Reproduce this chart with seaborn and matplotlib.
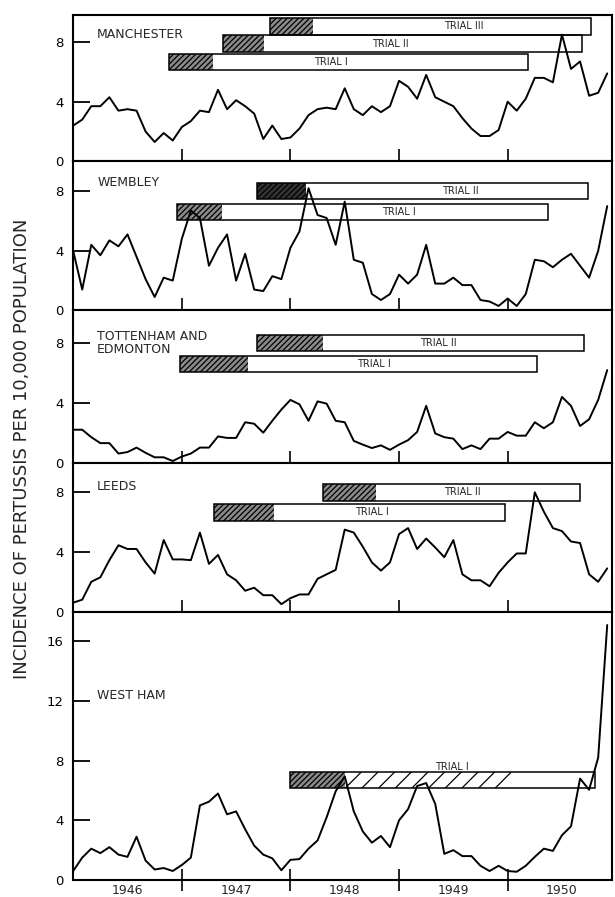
import numpy as np
import matplotlib
matplotlib.use("Agg")
import matplotlib.pyplot as plt
import seaborn as sns

# monthly incidence of pertussis per 10,000, Jan 1946 - Dec 1950
months = 1946 + np.arange(60) / 12

manchester = [2.4, 2.8, 3.7, 3.7, 4.3, 3.4, 3.5, 3.4, 2.0, 1.3,
              1.9, 1.4, 2.3, 2.7, 3.4, 3.3, 4.8, 3.5, 4.1, 3.7,
              3.2, 1.5, 2.4, 1.5, 1.6, 2.2, 3.1, 3.5, 3.6, 3.5,
              4.9, 3.5, 3.1, 3.7, 3.3, 3.7, 5.4, 5.0, 4.2, 5.8,
              4.3, 4.0, 3.7, 2.9, 2.2, 1.7, 1.7, 2.1, 4.0, 3.4,
              4.2, 5.6, 5.6, 5.3, 8.5, 6.2, 6.7, 4.4, 4.6, 5.9]
wembley = [4.0, 1.4, 4.4, 3.7, 4.7, 4.3, 5.1, 3.6, 2.1, 0.9,
           2.2, 2.0, 4.8, 6.7, 6.2, 3.0, 4.2, 5.1, 2.0, 3.8,
           1.4, 1.3, 2.3, 2.1, 4.2, 5.3, 8.2, 6.4, 6.2, 4.4,
           7.3, 3.4, 3.2, 1.1, 0.7, 1.1, 2.4, 1.8, 2.4, 4.4,
           1.8, 1.8, 2.2, 1.7, 1.7, 0.7, 0.6, 0.3, 0.8, 0.3,
           1.1, 3.4, 3.3, 2.9, 3.4, 3.8, 3.0, 2.2, 4.0, 7.0]
tottenham = [2.2, 2.2, 1.7, 1.3, 1.3, 0.6, 0.7, 1.0, 0.65, 0.35,
             0.35, 0.1, 0.4, 0.6, 1.0, 1.0, 1.75, 1.65, 1.65, 2.7,
             2.6, 2.0, 2.8, 3.55, 4.2, 3.9, 2.8, 4.1, 3.95, 2.8,
             2.7, 1.45, 1.2, 0.97, 1.15, 0.85, 1.2, 1.5, 2.05, 3.8,
             1.95, 1.7, 1.6, 0.9, 1.15, 0.9, 1.6, 1.6, 2.05, 1.8,
             1.8, 2.7, 2.3, 2.7, 4.4, 3.8, 2.45, 2.9, 4.2, 6.2]
leeds = [0.6, 0.8, 2.0, 2.3, 3.45, 4.45, 4.2, 4.2, 3.3, 2.55,
         4.8, 3.5, 3.5, 3.45, 5.3, 3.2, 3.8, 2.5, 2.1, 1.4,
         1.6, 1.1, 1.1, 0.5, 0.9, 1.15, 1.15, 2.2, 2.5, 2.8,
         5.5, 5.3, 4.35, 3.3, 2.75, 3.3, 5.2, 5.6, 4.2, 4.9,
         4.3, 3.65, 4.8, 2.5, 2.1, 2.1, 1.7, 2.6, 3.3, 3.9,
         3.9, 8.0, 6.7, 5.6, 5.4, 4.7, 4.6, 2.5, 2.0, 2.9]
west_ham = [0.6, 1.5, 2.1, 1.8, 2.2, 1.7, 1.55, 2.9, 1.3, 0.7,
            0.8, 0.6, 1.0, 1.5, 5.0, 5.25, 5.8, 4.4, 4.6, 3.4,
            2.3, 1.7, 1.45, 0.65, 1.35, 1.4, 2.1, 2.65, 4.2, 5.95,
            6.95, 4.6, 3.25, 2.5, 2.95, 2.2, 4.0, 4.75, 6.3, 6.5,
            5.1, 1.75, 2.0, 1.6, 1.6, 0.95, 0.6, 0.95, 0.6, 0.55,
            0.95, 1.55, 2.1, 1.95, 3.0, 3.6, 6.8, 6.05, 8.2, 17.1]

cities = ["MANCHESTER", "WEMBLEY", "TOTTENHAM AND\nEDMONTON", "LEEDS", "WEST HAM"]
series = [manchester, wembley, tottenham, leeds, west_ham]

# trials: (name, start, end of vaccination period, end of follow-up)
manchester_trials = [("TRIAL I", 1946.88, 1947.29, 1950.19),
                     ("TRIAL II", 1947.38, 1947.76, 1950.68),
                     ("TRIAL III", 1947.81, 1948.21, 1950.77)]
wembley_trials = [("TRIAL I", 1946.96, 1947.37, 1950.37),
                  ("TRIAL II", 1947.69, 1948.14, 1950.74)]
tottenham_trials = [("TRIAL I", 1946.98, 1947.61, 1950.27),
                    ("TRIAL II", 1947.69, 1948.30, 1950.70)]
leeds_trials = [("TRIAL I", 1947.30, 1947.85, 1949.98),
                ("TRIAL II", 1948.30, 1948.79, 1950.67)]
west_ham_trials = [("TRIAL I", 1948.0, 1948.5, 1950.80)]
trials = [manchester_trials, wembley_trials, tottenham_trials, leeds_trials, west_ham_trials]

years = [1946, 1947, 1948, 1949, 1950]

# layout
ylims = [9.8, 10.0, 10.2, 10.0, 18.0]
bar_y = [[6.65, 7.9, 9.05], [6.6, 8.0], [6.6, 8.0], [6.65, 8.0], [6.7]]
label_x = [[1948.37, 1948.92, 1949.6], [1949.0, 1949.56], [1948.77, 1949.36],
           [1948.75, 1949.58], [1949.49]]
city_y = [8.5, 8.6, 8.0, 8.4, 12.4]

sns.set_theme(style="white")
plt.rcParams["font.family"] = ["DejaVu Sans"]
plt.rcParams["hatch.linewidth"] = 0.9

fig, axes = plt.subplots(5, 1, figsize=(6.15, 8.97), dpi=100, sharex=True,
                         gridspec_kw={"height_ratios": ylims, "hspace": 0})
fig.subplots_adjust(left=0.119, right=0.995, top=0.983, bottom=0.019)

for i, ax in enumerate(axes):
    # trial bars
    for j, (name, start, vacc_end, end) in enumerate(trials[i]):
        yc = bar_y[i][j]
        h = 1.1
        ax.barh(yc, end - start, left=start, height=h, color="white",
                edgecolor="black", linewidth=0, zorder=2)
        dark = "#333333" if (i == 1 and j == 1) else "#8a8a8a"
        ax.barh(yc, vacc_end - start, left=start, height=h, color=dark,
                edgecolor="black", hatch="//////", linewidth=0, zorder=2.1)
        if i == 4:
            ax.barh(yc, 1950.03 - vacc_end, left=vacc_end, height=h, color="white",
                    edgecolor="black", hatch="//", linewidth=0, zorder=2.1)
            ax.text(label_x[i][j], yc + 0.9, name, fontsize=7, ha="center", va="center")
        else:
            ax.text(label_x[i][j], yc, name, fontsize=7, ha="center", va="center", zorder=3)
        ax.barh(yc, end - start, left=start, height=h, color="none",
                edgecolor="black", linewidth=1.1, zorder=2.2)

    sns.lineplot(x=months, y=series[i], ax=ax, color="black", linewidth=1.4, zorder=3)

    ax.text(1946.22, city_y[i], cities[i], fontsize=9, ha="left", va="center",
            linespacing=1.0)
    ax.set_ylim(0, ylims[i])
    ax.set_xlim(1946, 1950.96)
    ax.set_yticks([0, 4, 8, 12, 16] if i == 4 else [0, 4, 8])
    ax.tick_params(axis="y", direction="in", length=12, width=1.3, labelsize=9.5,
                   pad=7, left=True, colors="black")
    ax.set_xticks(years[1:])
    ax.tick_params(axis="x", which="major", direction="in", length=9, width=1.4,
                   bottom=True, labelbottom=False)
    for s in ax.spines.values():
        s.set_linewidth(1.5)
        s.set_color("black")
    ax.set_ylabel("")

bottom = axes[-1]
bottom.tick_params(axis="x", which="major", direction="inout", length=16)
bottom.set_xticks([y + 0.5 for y in years], minor=True)
bottom.set_xticklabels([str(y) for y in years], minor=True)
bottom.tick_params(axis="x", which="minor", length=0, labelsize=9, pad=3,
                   labelbottom=True)

fig.text(0.036, 0.5, "INCIDENCE OF PERTUSSIS PER 10,000 POPULATION", rotation=90,
         ha="center", va="center", fontsize=13)

fig.savefig("out.png", dpi=100)
